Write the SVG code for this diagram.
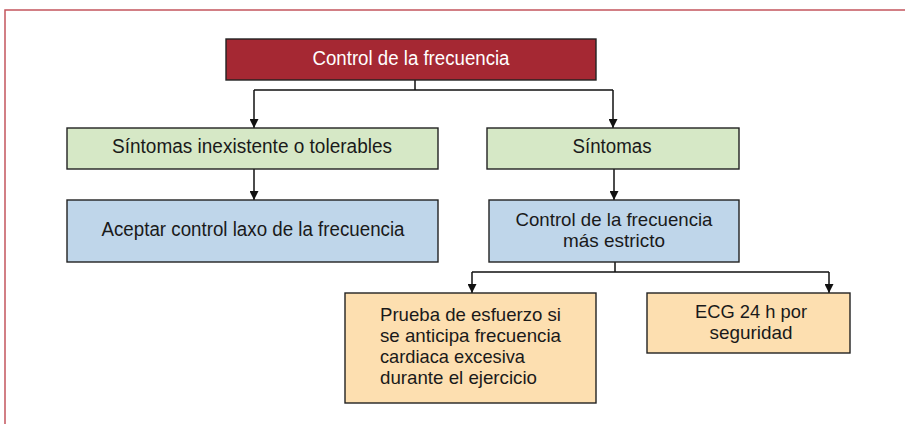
<svg xmlns="http://www.w3.org/2000/svg" width="905" height="424" viewBox="0 0 905 424">
<style>
.box{stroke:#222;stroke-width:1.4}
.red{fill:#a52833}
.green{fill:#d6e8c6}
.blue{fill:#bfd6ea}
.orange{fill:#fddfb0}
text{font-family:"Liberation Sans",Arial,sans-serif;font-size:20px;fill:#1a1a1a}
.s{font-size:19px}
.c{text-anchor:middle}
.w{fill:#fff}
.con{fill:none;stroke:#111;stroke-width:1.5}
</style>
<defs>
<marker id="arr" viewBox="0 0 10 10" refX="10" refY="5" markerWidth="11" markerHeight="9" markerUnits="userSpaceOnUse" orient="auto">
<path d="M0,0 L10,5 L0,10 z" fill="#111"/>
</marker>
</defs>
<rect width="905" height="424" fill="#fff"/>
<path d="M5,424 V10 H905" fill="none" stroke="#c4555e" stroke-width="1.5"/>
<g id="connectors">
<path class="con" d="M415,80 V90 M254,90 H613"/>
<path class="con" d="M254,90 V128" marker-end="url(#arr)"/>
<path class="con" d="M613,90 V128" marker-end="url(#arr)"/>
<path class="con" d="M254,169 V200" marker-end="url(#arr)"/>
<path class="con" d="M614,169 V200" marker-end="url(#arr)"/>
<path class="con" d="M615,262 V272 M472,272 H829"/>
<path class="con" d="M472,272 V293" marker-end="url(#arr)"/>
<path class="con" d="M829,272 V293" marker-end="url(#arr)"/>
</g>
<g id="n1">
<rect class="box red" x="226" y="39" width="370" height="41"/>
<text class="c w" x="411" y="65" textLength="197" lengthAdjust="spacingAndGlyphs">Control de la frecuencia</text>
</g>
<g id="n2">
<rect class="box green" x="67" y="128" width="371" height="41"/>
<text class="c" x="252" y="153" textLength="280" lengthAdjust="spacingAndGlyphs">Síntomas inexistente o tolerables</text>
</g>
<g id="n3">
<rect class="box green" x="487" y="128" width="252" height="41"/>
<text class="c" x="612" y="153" textLength="79" lengthAdjust="spacingAndGlyphs">Síntomas</text>
</g>
<g id="n4">
<rect class="box blue" x="67" y="200" width="371" height="62"/>
<text class="c" x="253" y="236" textLength="303" lengthAdjust="spacingAndGlyphs">Aceptar control laxo de la frecuencia</text>
</g>
<g id="n5">
<rect class="box blue" x="489" y="200" width="250" height="62"/>
<text class="c s" x="614" y="226" textLength="197" lengthAdjust="spacingAndGlyphs">Control de la frecuencia</text>
<text class="c s" x="614" y="247" textLength="102" lengthAdjust="spacingAndGlyphs">más estricto</text>
</g>
<g id="n6">
<rect class="box orange" x="345" y="293" width="251" height="110"/>
<text class="s" x="380" y="321" textLength="181" lengthAdjust="spacingAndGlyphs">Prueba de esfuerzo si</text>
<text class="s" x="380" y="342" textLength="181" lengthAdjust="spacingAndGlyphs">se anticipa frecuencia</text>
<text class="s" x="380" y="363" textLength="145" lengthAdjust="spacingAndGlyphs">cardiaca excesiva</text>
<text class="s" x="380" y="384" textLength="157" lengthAdjust="spacingAndGlyphs">durante el ejercicio</text>
</g>
<g id="n7">
<rect class="box orange" x="647" y="293" width="203" height="60"/>
<text class="c s" x="751" y="318" textLength="112" lengthAdjust="spacingAndGlyphs">ECG 24 h por</text>
<text class="c s" x="751" y="339" textLength="83" lengthAdjust="spacingAndGlyphs">seguridad</text>
</g>
</svg>
